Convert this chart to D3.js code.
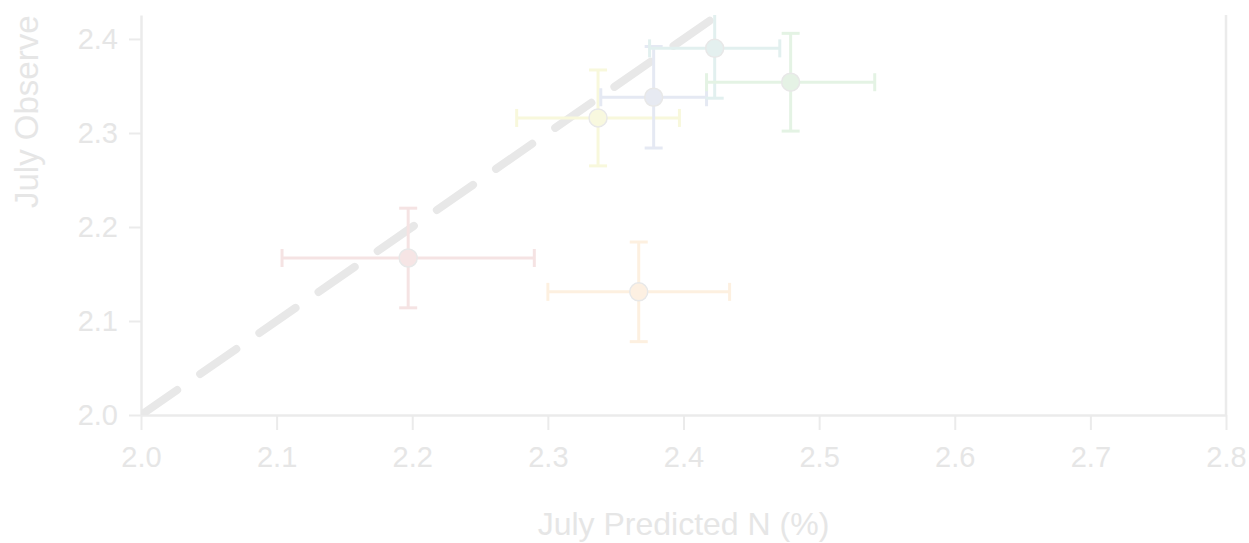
<!DOCTYPE html>
<html>
<head>
<meta charset="utf-8">
<script src="https://cdn.jsdelivr.net/npm/d3@7"></script>
<style>
  html, body { margin: 0; padding: 0; background: #ffffff; }
  svg { display: block; }
  text { font-family: "Liberation Sans", Arial, sans-serif; }
</style>
</head>
<body>
<script>
// Predicted vs observed July N (%) with error bars
const sites     = ["A", "B", "C", "D", "E", "F"];
const predicted = [2.197, 2.367, 2.337, 2.378, 2.423, 2.479];
const predErr   = [0.093, 0.067, 0.060, 0.039, 0.048, 0.062];
const observed  = [2.167, 2.131, 2.316, 2.338, 2.390, 2.354];
const obsErr    = [0.053, 0.053, 0.051, 0.054, 0.053, 0.052];
const fills     = ["#f6e5e5", "#fdf0e2", "#f8f8df", "#e7eaf2", "#e4f0ef", "#e5f2e5"];
const barColors = ["#f5e3e3", "#fdf0e0", "#f8f8dc", "#e5e9f3", "#e2f0ef", "#e4f3e4"];
const xTicks    = [2.0, 2.1, 2.2, 2.3, 2.4, 2.5, 2.6, 2.7, 2.8];
const yTicks    = [2.0, 2.1, 2.2, 2.3, 2.4];

const W = 1249, H = 543;
const svg = d3.select("body").append("svg").attr("width", W).attr("height", H);

const x = d3.scaleLinear().domain([2.0, 2.8]).range([141, 1226]);
const y = d3.scaleLinear().domain([2.0, 2.4255]).range([415, 15]);

const axisColor = "#ebebeb";
const labelColor = "#e6e6e6";

const defs = svg.append("defs");
defs.append("clipPath").attr("id", "plot")
  .append("rect")
  .attr("x", x.range()[0]).attr("y", y.range()[1])
  .attr("width", x.range()[1] - x.range()[0])
  .attr("height", y.range()[0] - y.range()[1]);
// the figure is framed from the plot top downwards
defs.append("clipPath").attr("id", "frame")
  .append("rect")
  .attr("x", 0).attr("y", y.range()[1])
  .attr("width", W).attr("height", H - y.range()[1]);

// axes
const xAxis = svg.append("g").attr("transform", `translate(0,${y(2.0)})`)
  .call(d3.axisBottom(x).tickValues(xTicks).tickFormat(d3.format(".1f"))
    .tickSize(15).tickSizeOuter(0).tickPadding(16));
const yAxis = svg.append("g").attr("transform", `translate(${x(2.0)},0)`)
  .call(d3.axisLeft(y).tickValues(yTicks).tickFormat(d3.format(".1f"))
    .tickSize(12).tickSizeOuter(0).tickPadding(11));

[xAxis, yAxis].forEach(g => {
  g.select(".domain").attr("stroke", axisColor).attr("stroke-width", 2.5);
  g.selectAll(".tick line").attr("stroke", axisColor).attr("stroke-width", 2);
  g.selectAll(".tick text").attr("fill", labelColor)
    .style("font-size", "29px").style("font-family", "Liberation Sans, Arial, sans-serif");
});

// right frame line
svg.append("line")
  .attr("x1", x(2.8)).attr("x2", x(2.8))
  .attr("y1", y.range()[1]).attr("y2", y(2.0))
  .attr("stroke", axisColor).attr("stroke-width", 2.5);

// axis titles
svg.append("text")
  .attr("x", (x.range()[0] + x.range()[1]) / 2).attr("y", 535)
  .attr("text-anchor", "middle")
  .attr("fill", labelColor)
  .style("font-size", "32px")
  .text("July Predicted N (%)");

svg.append("g").attr("clip-path", "url(#frame)")
  .append("text")
  .attr("transform", "translate(38,208) rotate(-90)")
  .attr("text-anchor", "start")
  .attr("fill", labelColor)
  .style("font-size", "33px")
  .text("July Observed N (%)");

const plot = svg.append("g").attr("clip-path", "url(#plot)");

// 1:1 reference line
plot.append("line")
  .attr("x1", x(2.0)).attr("y1", y(2.0))
  .attr("x2", x(2.8)).attr("y2", y(2.8))
  .attr("stroke", "#e8e8e8").attr("stroke-width", 8)
  .attr("stroke-linecap", "round")
  .attr("stroke-dasharray", "44,28");

const data = sites.map((s, i) => ({
  s, px: predicted[i], pe: predErr[i], oy: observed[i], oe: obsErr[i],
  fill: fills[i], bar: barColors[i]
}));

const cap = 9;
const g = plot.selectAll("g.pt").data(data).join("g").attr("class", "pt");

// horizontal error bars
g.append("line")
  .attr("x1", d => x(d.px - d.pe)).attr("x2", d => x(d.px + d.pe))
  .attr("y1", d => y(d.oy)).attr("y2", d => y(d.oy))
  .attr("stroke", d => d.bar).attr("stroke-width", 3);
g.append("line")
  .attr("x1", d => x(d.px - d.pe)).attr("x2", d => x(d.px - d.pe))
  .attr("y1", d => y(d.oy) - cap).attr("y2", d => y(d.oy) + cap)
  .attr("stroke", d => d.bar).attr("stroke-width", 3);
g.append("line")
  .attr("x1", d => x(d.px + d.pe)).attr("x2", d => x(d.px + d.pe))
  .attr("y1", d => y(d.oy) - cap).attr("y2", d => y(d.oy) + cap)
  .attr("stroke", d => d.bar).attr("stroke-width", 3);

// vertical error bars
g.append("line")
  .attr("x1", d => x(d.px)).attr("x2", d => x(d.px))
  .attr("y1", d => y(d.oy - d.oe)).attr("y2", d => y(d.oy + d.oe))
  .attr("stroke", d => d.bar).attr("stroke-width", 3);
g.append("line")
  .attr("x1", d => x(d.px) - cap).attr("x2", d => x(d.px) + cap)
  .attr("y1", d => y(d.oy - d.oe)).attr("y2", d => y(d.oy - d.oe))
  .attr("stroke", d => d.bar).attr("stroke-width", 3);
g.append("line")
  .attr("x1", d => x(d.px) - cap).attr("x2", d => x(d.px) + cap)
  .attr("y1", d => y(d.oy + d.oe)).attr("y2", d => y(d.oy + d.oe))
  .attr("stroke", d => d.bar).attr("stroke-width", 3);

// points
g.append("circle")
  .attr("cx", d => x(d.px)).attr("cy", d => y(d.oy))
  .attr("r", 9)
  .attr("fill", d => d.fill)
  .attr("stroke", "#e8e8e8").attr("stroke-width", 1.5);
</script>
</body>
</html>
